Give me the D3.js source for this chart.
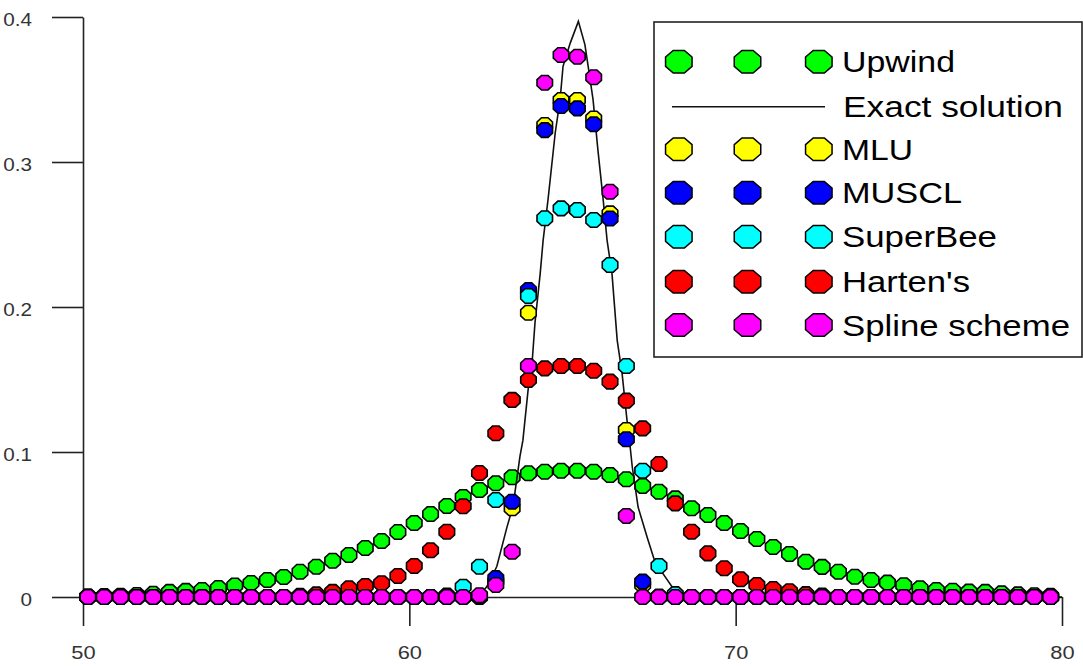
<!DOCTYPE html>
<html><head><meta charset="utf-8">
<script src="https://cdn.jsdelivr.net/npm/d3@7"></script>
<style>
html,body{margin:0;padding:0;background:#fff;}
svg{display:block;}
text{font-family:"Liberation Sans",Arial,sans-serif;}
</style></head>
<body>
<svg id="chart" width="1083" height="666"></svg>
<script>
// ---------- data ----------
const xs = [50.15,50.65,51.15,51.65,52.15,52.65,53.15,53.65,54.15,54.65,
            55.15,55.65,56.15,56.65,57.15,57.65,58.15,58.65,59.15,59.65,
            60.15,60.65,61.15,61.65,62.15,62.65,63.15,63.65,64.15,64.65,
            65.15,65.65,66.15,66.65,67.15,67.65,68.15,68.65,69.15,69.65,
            70.15,70.65,71.15,71.65,72.15,72.65,73.15,73.65,74.15,74.65,
            75.15,75.65,76.15,76.65,77.15,77.65,78.15,78.65,79.15,79.65];
const upwind = [0.0004,0.0006,0.0009,0.0014,0.0022,0.0035,0.0042,0.0048,0.0062,0.0079,
                0.0097,0.0117,0.0138,0.0174,0.0209,0.0250,0.0290,0.0338,0.0386,0.0448,
                0.0510,0.0572,0.0628,0.0690,0.0738,0.0784,0.0826,0.0853,0.0864,0.0871,
                0.0871,0.0864,0.0841,0.0812,0.0766,0.0726,0.0680,0.0612,0.0566,0.0510,
                0.0455,0.0400,0.0345,0.0297,0.0243,0.0208,0.0174,0.0140,0.0117,0.0099,
                0.0081,0.0060,0.0048,0.0043,0.0037,0.0035,0.0025,0.0018,0.0012,0.0008];
const mlu = [0,0,0,0,0,0,0,0,0,0, 0,0,0,0,0,0,0,0,0,0, 0,0,0,0,0,
             0.011,0.0612,0.196,0.3255,0.3428,0.3428,0.330,0.2646,0.1152,0.0083,
             0,0,0,0,0, 0,0,0,0,0, 0,0,0,0,0, 0,0,0,0,0, 0,0,0,0,0];
const muscl = [0,0,0,0,0,0,0,0,0,0, 0,0,0,0,0,0,0,0,0,0, 0,0,0,0,0.0005,
               0.013,0.0657,0.2117,0.322,0.3386,0.337,0.326,0.261,0.1088,0.0106,
               0.0003,0,0,0,0, 0,0,0,0,0, 0,0,0,0,0, 0,0,0,0,0, 0,0,0,0,0];
const superbee = [0,0,0,0,0,0,0,0,0,0, 0,0,0,0,0,0,0,0,0,0, 0,0,0.001,0.0071,0.0209,
                  0.0669,0.136,0.2076,0.2612,0.268,0.2669,0.260,0.229,0.1593,0.0871,
                  0.0214,0.002,0,0,0, 0,0,0,0,0, 0,0,0,0,0, 0,0,0,0,0, 0,0,0,0,0];
const harten = [0,0,0,0,0,0,0,0,0,0, 0,0,0,0.0008,0.0018,0.0035,0.006,0.0076,0.0095,0.0145,
                0.0214,0.0322,0.045,0.0626,0.0855,0.1129,0.1359,0.1497,0.1577,0.1593,
                0.1593,0.156,0.1485,0.1354,0.1163,0.0917,0.0646,0.045,0.0301,0.0198,
                0.0122,0.0083,0.0055,0.004,0.002,0.001,0,0,0,0, 0,0,0,0,0, 0,0,0,0,0];
const spline = [0,0,0,0,0,0,0,0,0,0, 0,0,0,0,0,0,0,0,0,0, 0,0,0,0,0.0012,
                0.0083,0.0312,0.1593,0.3547,0.3738,0.3726,0.3584,0.2795,0.0559,0,
                0,0,0,0,0, 0,0,0,0,0, 0,0,0,0,0, 0,0,0,0,0, 0,0,0,0,0];
const exactX = [50,62.11,62.37,62.68,62.99,63.18,63.39,63.48,63.64,63.76,63.85,64.01,64.10,64.25,
                64.47,64.62,64.71,64.93,65.18,65.38,65.48,65.63,65.78,65.94,66.06,66.21,66.37,
                66.52,66.67,66.76,66.83,67.01,67.29,67.53,68.08,68.45,80];
const exactY = [0,0,0.007,0.021,0.048,0.063,0.097,0.108,0.143,0.161,0.189,0.223,0.246,0.274,
                0.32,0.343,0.366,0.382,0.397,0.381,0.366,0.343,0.308,0.274,0.246,0.223,0.177,
                0.154,0.122,0.105,0.09,0.062,0.041,0.024,0.006,0,0];
const xMajor = [50,60,70,80], xMinor = [55,65,75];
const yMajor = [0,0.1,0.2,0.3,0.4], yMinor = [0.05,0.15,0.25,0.35];
const seriesNames = ["Upwind","Exact solution","MLU","MUSCL","SuperBee","Harten's","Spline scheme"];
const seriesColors = ["#00ff00","#000000","#ffff00","#0000ff","#00ffff","#ff0000","#ff00ff"];

// ---------- drawing ----------
const svg = d3.select("#chart");
const x = d3.scaleLinear().domain([50,80]).range([83,1062]);
const y = d3.scaleLinear().domain([0,0.4]).range([597,17]);
const axisColor = "#222";

function octagon(w,h){
  const a=w/2,b=h/2,k=0.42;
  return `M${-a},${-b*k}L${-a*k},${-b}L${a*k},${-b}L${a},${-b*k}L${a},${b*k}L${a*k},${b}L${-a*k},${b}L${-a},${b*k}Z`;
}

// x axis
const gx = svg.append("g").attr("transform",`translate(0,${y(0)})`);
gx.call(d3.axisBottom(x).tickValues(xMinor).tickSize(14).tickSizeOuter(0).tickFormat(""));
gx.call(d3.axisBottom(x).tickValues(xMajor).tickSize(29).tickSizeOuter(0).tickFormat(d3.format("d")));
gx.selectAll("path,line").attr("stroke",axisColor).attr("stroke-width",1.6);
gx.selectAll("text").attr("y",62).attr("dy",null).attr("fill","#333")
  .style("font-size","19px").attr("transform","scale(1.15,1)");

// y axis
const gy = svg.append("g").attr("transform",`translate(${x(50)},0)`);
gy.call(d3.axisLeft(y).tickValues(yMinor).tickSize(16).tickSizeOuter(0).tickFormat(""));
gy.call(d3.axisLeft(y).tickValues(yMajor).tickSize(31).tickSizeOuter(0).tickFormat(d=>d===0?"0":d3.format(".1f")(d)));
gy.selectAll("path,line").attr("stroke",axisColor).attr("stroke-width",1.6);
gy.selectAll("text").attr("x",-51/1.15).attr("dy",null).attr("y",8).attr("fill","#333")
  .style("font-size","18px").attr("text-anchor","end").attr("transform","scale(1.15,1)");
svg.selectAll(".domain").attr("stroke",axisColor);

const markerPath = octagon(15.5,14.5);
function drawSeries(vals,color){
  svg.append("g").selectAll("path").data(vals).join("path")
    .attr("d",markerPath)
    .attr("transform",(d,i)=>`translate(${x(xs[i])},${y(d)})`)
    .attr("fill",color).attr("stroke","#000").attr("stroke-width",1.6);
}
drawSeries(upwind,seriesColors[0]);
const line = d3.line().x((d,i)=>x(exactX[i])).y(d=>y(d));
svg.append("path").attr("d",line(exactY)).attr("fill","none")
  .attr("stroke","#111").attr("stroke-width",1.6);
drawSeries(mlu,seriesColors[2]);
drawSeries(muscl,seriesColors[3]);
drawSeries(superbee,seriesColors[4]);
drawSeries(harten,seriesColors[5]);
drawSeries(spline,seriesColors[6]);

// legend
const lg = svg.append("g");
lg.append("rect").attr("x",654).attr("y",22).attr("width",428).attr("height",335)
  .attr("fill","#fff").attr("stroke",axisColor).attr("stroke-width",1.6);
const rowY = [61.7,106.7,149.3,192.7,236.7,281.7,325];
const textW = [113,220,71,120,155,128,228];
const legMarkX = [678.8,747.5,818.8];
const legPath = octagon(26.5,22.5);
seriesNames.forEach((n,i)=>{
  if(i===1){
    lg.append("line").attr("x1",672).attr("x2",825).attr("y1",rowY[i]).attr("y2",rowY[i])
      .attr("stroke","#111").attr("stroke-width",1.6);
  } else {
    legMarkX.forEach(mx=>{
      lg.append("path").attr("d",legPath).attr("transform",`translate(${mx},${rowY[i]})`)
        .attr("fill",seriesColors[i]).attr("stroke","#000").attr("stroke-width",1.5);
    });
  }
  lg.append("text").attr("x",i===1?843:842).attr("y",rowY[i]+10.5)
    .attr("textLength",textW[i]).attr("lengthAdjust","spacingAndGlyphs")
    .style("font-size","30px").attr("fill","#000").text(n);
});
</script>
</body></html>
